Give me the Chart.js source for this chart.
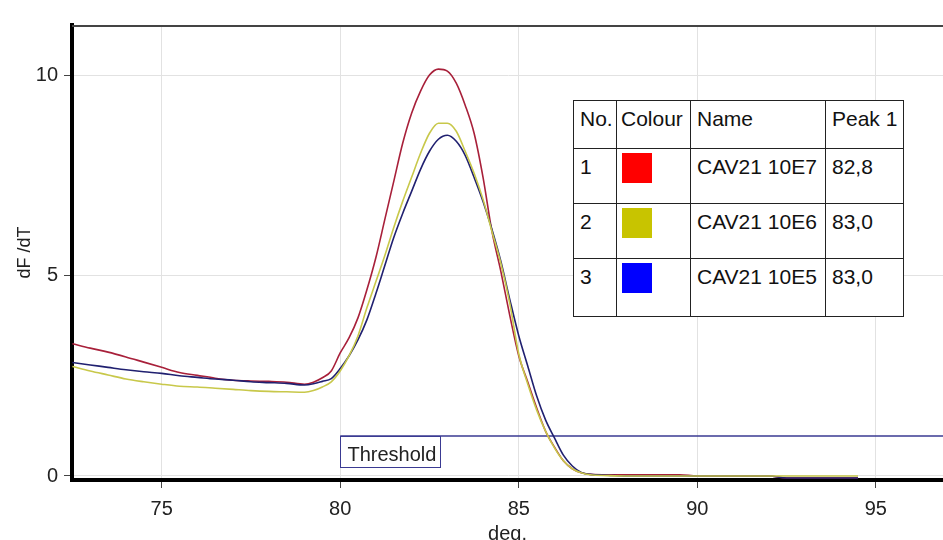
<!DOCTYPE html>
<html>
<head>
<meta charset="utf-8">
<script src="https://cdn.jsdelivr.net/npm/chart.js@4.4.0/dist/chart.umd.min.js"></script>
<style>
  html, body { margin: 0; padding: 0; background: #fff; }
  #wrap { position: relative; width: 943px; height: 540px; overflow: hidden; }
  #legend {
    position: absolute; left: 573px; top: 100px;
    border-collapse: collapse; background: #fff;
    font-family: "Liberation Sans", Arial, sans-serif; font-size: 21px; color: #111;
    table-layout: fixed;
  }
  #legend td {
    border: 1.5px solid #222; padding: 6px 0 0 6px; vertical-align: top;
    line-height: 24px; white-space: nowrap; overflow: hidden;
  }
  #legend .sw { width: 30px; height: 30px; margin: -2px 0 0 -1px; }
</style>
</head>
<body>
<div id="wrap">
  <canvas id="chart" width="943" height="540"></canvas>
  <table id="legend"></table>
</div>
<script>
// temperature (deg.) sample points
const temps = [72.5, 73, 73.5, 74, 74.5, 75, 75.5, 76, 76.5, 77, 77.5, 78, 78.5, 79, 79.25, 79.5, 79.75,
  80, 80.25, 80.5, 80.75, 81, 81.25, 81.5, 81.75, 82, 82.25, 82.5, 82.75, 83, 83.25, 83.5, 83.75,
  84, 84.25, 84.5, 84.75, 85, 85.25, 85.5, 85.75, 86, 86.25, 86.5, 86.75, 87,
  87.5, 88, 89, 89.5, 90, 91, 92, 92.5, 93, 94, 94.5];

// dF/dT per sample
const cav10E7 = [3.30, 3.19, 3.09, 2.97, 2.84, 2.71, 2.58, 2.51, 2.44, 2.39, 2.37, 2.36, 2.34, 2.29, 2.34, 2.45, 2.62,
  3.07, 3.45, 3.95, 4.65, 5.45, 6.4, 7.35, 8.3, 9.05, 9.6, 10.0, 10.15, 10.1, 9.8, 9.25, 8.55,
  7.45, 6.1, 5.1, 4.0, 3.0, 2.35, 1.7, 1.12, 0.72, 0.38, 0.18, 0.08, 0.04,
  0.03, 0.03, 0.03, 0.03, 0, 0, 0, -0.05, -0.05, -0.05, -0.05];
const cav10E6 = [2.73, 2.62, 2.52, 2.42, 2.35, 2.29, 2.24, 2.22, 2.19, 2.16, 2.13, 2.11, 2.10, 2.09, 2.13, 2.22, 2.35,
  2.62, 3.0, 3.5, 4.2, 4.85, 5.5, 6.2, 6.85, 7.45, 8.05, 8.55, 8.8, 8.8, 8.6, 8.1, 7.55,
  6.9, 6.1, 5.3, 4.3, 3.05, 2.3, 1.65, 1.12, 0.7, 0.38, 0.18, 0.08, 0.03,
  0.01, 0, 0, 0, 0, 0, 0, 0, 0, 0, 0];
const cav10E5 = [2.83, 2.77, 2.71, 2.65, 2.60, 2.56, 2.50, 2.46, 2.42, 2.39, 2.35, 2.33, 2.31, 2.27, 2.30, 2.36, 2.43,
  2.68, 3.0, 3.4, 3.9, 4.55, 5.25, 5.95, 6.55, 7.1, 7.65, 8.1, 8.4, 8.5, 8.35, 8.0, 7.45,
  6.85, 6.15, 5.35, 4.4, 3.5, 2.75, 2.0, 1.4, 0.95, 0.52, 0.25, 0.09, 0.04,
  0.02, 0, 0, 0, 0, 0, 0, -0.05, -0.05, -0.05, -0.05];

const xTicks = [75, 80, 85, 90, 95];
const yTicks = [0, 5, 10];
const thresholdValue = 1.0;
const thresholdStart = 80;

// legend table
const sampleNo = ['1', '2', '3'];
const sampleNames = ['CAV21 10E7', 'CAV21 10E6', 'CAV21 10E5'];
const peak1 = ['82,8', '83,0', '83,0'];
const swatches = ['#ff0000', '#c8c400', '#0000ff'];
const lineColours = ['#a8203a', '#c8c84a', '#202070'];

const X_MIN = 72.49, X_MAX = 96.88, Y_MIN = -0.1, Y_MAX = 11.25;
const FONT = '"Liberation Sans", Arial, sans-serif';

// build legend
const legend = document.getElementById('legend');
const colW = [43, 74, 135, 78];
const rowH = [48, 55, 55, 58];
let html = '<colgroup>' + colW.map(w => `<col style="width:${w}px">`).join('') + '</colgroup>';
html += `<tr style="height:${rowH[0]}px"><td>No.</td><td style="padding-left:4px">Colour</td><td>Name</td><td>Peak 1</td></tr>`;
sampleNames.forEach((n, i) => {
  html += `<tr style="height:${rowH[i + 1]}px"><td>${sampleNo[i]}</td>` +
    `<td><div class="sw" style="background:${swatches[i]}"></div></td>` +
    `<td>${n}</td><td>${peak1[i]}</td></tr>`;
});
legend.innerHTML = html;

const series = [cav10E6, cav10E5, cav10E7];
const seriesColour = [lineColours[1], lineColours[2], lineColours[0]];
const seriesLabel = [sampleNames[1], sampleNames[2], sampleNames[0]];

const datasets = series.map((s, k) => ({
  label: seriesLabel[k],
  data: temps.map((t, i) => ({ x: t, y: s[i] })),
  borderColor: seriesColour[k],
  borderWidth: 1.6,
  pointRadius: 0,
  cubicInterpolationMode: 'monotone',
  fill: false
}));
datasets.push({
  label: 'Threshold',
  data: [{ x: thresholdStart, y: thresholdValue }, { x: X_MAX, y: thresholdValue }],
  borderColor: '#3a3a92',
  borderWidth: 1.5,
  pointRadius: 0,
  fill: false
});

const frame = {
  id: 'frame',
  afterDatasetsDraw(chart) {
    const { ctx, chartArea, scales } = chart;
    ctx.save();
    // top border
    ctx.strokeStyle = '#444';
    ctx.lineWidth = 2;
    ctx.beginPath();
    ctx.moveTo(chartArea.left, chartArea.top + 1);
    ctx.lineTo(chartArea.right, chartArea.top + 1);
    ctx.stroke();
    // threshold label
    const bx = Math.round(scales.x.getPixelForValue(thresholdStart)) + 0.5;
    const by = Math.round(scales.y.getPixelForValue(thresholdValue)) + 0.5;
    ctx.fillStyle = '#fff';
    ctx.fillRect(bx, by, 100, 31);
    ctx.strokeStyle = '#3a3a92';
    ctx.lineWidth = 1;
    ctx.strokeRect(bx, by, 100, 31);
    ctx.fillStyle = '#222';
    ctx.font = '20px ' + FONT;
    ctx.textBaseline = 'alphabetic';
    ctx.fillText('Threshold', bx + 7, by + 24);
    ctx.restore();
  }
};

new Chart(document.getElementById('chart'), {
  type: 'line',
  data: { datasets },
  plugins: [frame],
  options: {
    responsive: false,
    animation: false,
    layout: { padding: { top: 25, right: 0, left: 0, bottom: 0 } },
    plugins: { legend: { display: false }, tooltip: { enabled: false } },
    scales: {
      x: {
        type: 'linear', min: X_MIN, max: X_MAX,
        afterBuildTicks: s => { s.ticks = xTicks.map(v => ({ value: v })); },
        afterFit: s => { s.height = 60; },
        grid: { color: '#e2e2e2', lineWidth: 1, tickColor: '#444', tickLength: 8 },
        border: { color: '#000', width: 4 },
        ticks: { color: '#222', font: { family: FONT, size: 20 }, padding: 9, maxRotation: 0 },
        title: { display: true, text: 'deg.', color: '#222', font: { family: FONT, size: 20 }, padding: { top: 0, bottom: -6 } }
      },
      y: {
        type: 'linear', min: Y_MIN, max: Y_MAX,
        afterBuildTicks: s => { s.ticks = yTicks.map(v => ({ value: v })); },
        afterFit: s => { s.width = 72; },
        grid: { color: '#e2e2e2', lineWidth: 1, tickColor: '#444', tickLength: 8 },
        border: { color: '#000', width: 4 },
        ticks: { color: '#222', font: { family: FONT, size: 20 }, padding: 6 },
        title: { display: true, text: 'dF /dT', color: '#222', font: { family: FONT, size: 18 }, padding: { top: 14, bottom: 0 } }
      }
    }
  }
});
</script>
</body>
</html>
